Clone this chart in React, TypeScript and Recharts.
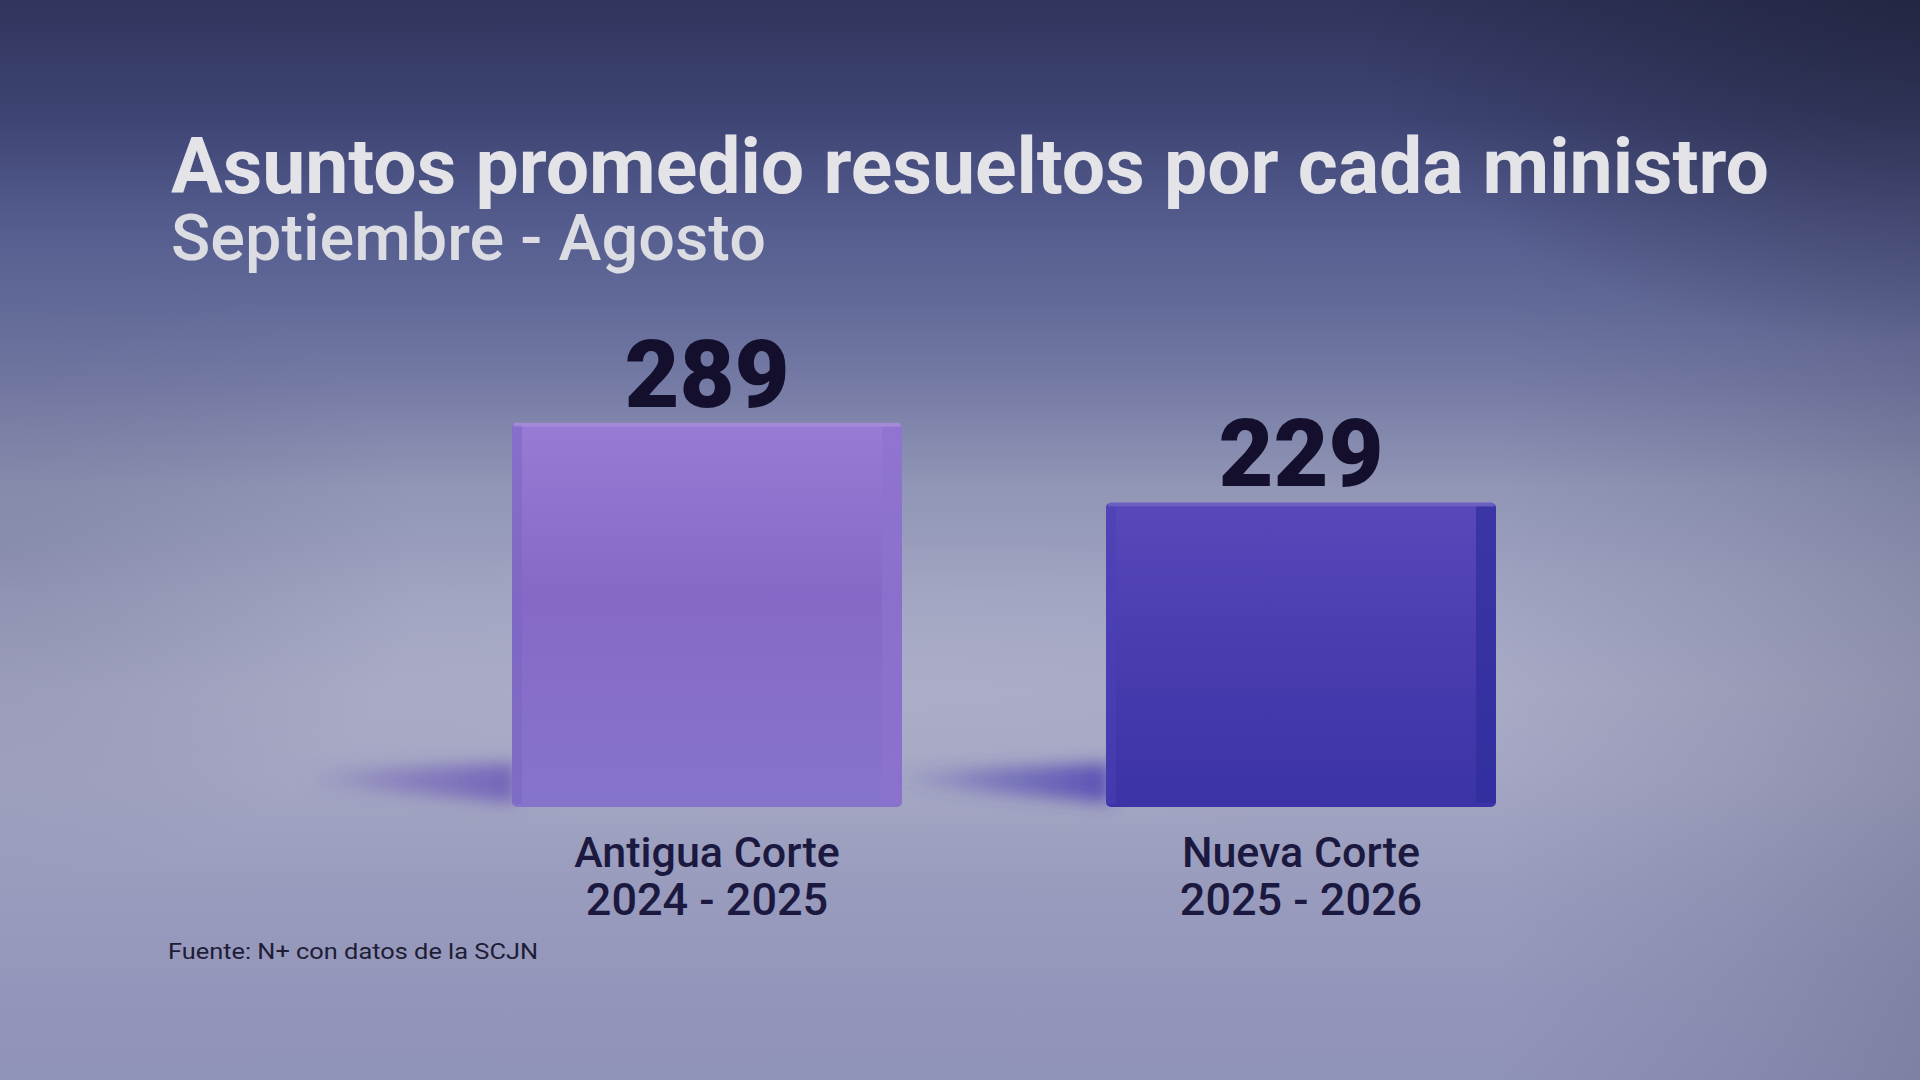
import React from 'react';
import { BarChart, Bar, XAxis, YAxis, LabelList } from 'recharts';

// ---- data ----
const categories = ['Antigua Corte', 'Nueva Corte'];
const periods = ['2024 - 2025', '2025 - 2026'];
const values = [289, 229];
const title = 'Asuntos promedio resueltos por cada ministro';
const subtitle = 'Septiembre - Agosto';
const source = 'Fuente: N+ con datos de la SCJN';

const data = categories.map((c, i) => ({ name: c, period: periods[i], value: values[i] }));

const W = 1920;
const H = 1080;
const FONT = 'Roboto, "Noto Sans", "DejaVu Sans", sans-serif';

const BAR_STYLES = [
  { top: '#977bd4', mid: '#8669c6', bottom: '#8674cc', edgeL: '#7a66c2', edgeR: '#8d72cf', shadow: '#6a58b8' },
  { top: '#5849ba', mid: '#4a3db0', bottom: '#3b33a6', edgeL: '#4a3fb4', edgeR: '#2f2d9d', shadow: '#4f43b2' },
];

function BarShape(props: any) {
  const { x, y, width, height, index } = props;
  const s = BAR_STYLES[index] || BAR_STYLES[0];
  const bottom = y + height;
  const gid = `bargrad-${index}`;
  const shid = `barshadow-${index}`;
  const fid = `barblur-${index}`;
  return (
    <g>
      <defs>
        <linearGradient id={gid} x1="0" y1="0" x2="0" y2="1">
          <stop offset="0%" stopColor={s.top} />
          <stop offset="45%" stopColor={s.mid} />
          <stop offset="100%" stopColor={s.bottom} />
        </linearGradient>
        <linearGradient id={shid} x1="1" y1="0" x2="0" y2="0">
          <stop offset="0%" stopColor={s.shadow} stopOpacity={0.85} />
          <stop offset="55%" stopColor={s.shadow} stopOpacity={0.45} />
          <stop offset="100%" stopColor={s.shadow} stopOpacity={0} />
        </linearGradient>
        <filter id={fid} x="-50%" y="-100%" width="200%" height="300%">
          <feGaussianBlur stdDeviation="8" />
        </filter>
      </defs>
      <polygon
        points={`${x + 4},${bottom - 44} ${x + 4},${bottom - 4} ${x - 210},${bottom - 22} ${x - 210},${bottom - 36}`}
        fill={`url(#${shid})`}
        filter={`url(#${fid})`}
      />
      <rect x={x} y={y} width={width} height={height} rx={5} ry={5} fill={`url(#${gid})`} />
      <rect x={x} y={y + 3} width={10} height={height - 6} fill={s.edgeL} opacity={0.55} />
      <rect x={x + width - 20} y={y + 4} width={20} height={height - 8} fill={s.edgeR} opacity={0.7} />
      <rect x={x + 2} y={y} width={width - 4} height={4} fill="#ffffff" opacity={0.12} />
    </g>
  );
}

function ValueLabel(props: any) {
  const { x, y, width, value } = props;
  return (
    <text
      x={x + width / 2}
      y={y - 16}
      textAnchor="middle"
      fontFamily={FONT}
      fontWeight={900}
      fontSize={95}
      fill="#130f2c"
    >
      {value}
    </text>
  );
}

function CategoryTick(props: any) {
  const { x, y, payload } = props;
  const i = payload.index;
  return (
    <g>
      <text
        x={x}
        y={y + 52}
        textAnchor="middle"
        fontFamily={FONT}
        fontWeight={500}
        fontSize={43}
        fill="#1b1940"
      >
        {categories[i]}
      </text>
      <text
        x={x}
        y={y + 100}
        textAnchor="middle"
        fontFamily={FONT}
        fontWeight={500}
        fontSize={45}
        fill="#1b1940"
      >
        {periods[i]}
      </text>
    </g>
  );
}

export default function App() {
  const bg = [
    'radial-gradient(ellipse 30% 32% at 100% 0%, rgba(22,24,44,0.55), rgba(22,24,44,0) 100%)',
    'linear-gradient(to left, rgba(60,62,92,0.22) 0%, rgba(60,62,92,0.10) 10%, rgba(60,62,92,0) 22%)',
    'radial-gradient(ellipse 22% 30% at 0% 52%, rgba(70,74,110,0.2), rgba(70,74,110,0) 100%)',
    'radial-gradient(ellipse 45% 14% at 45% 64%, rgba(190,192,214,0.25), rgba(190,192,214,0) 100%)',
    'linear-gradient(to bottom, #30355c 0%, #3e4574 11%, #535b8d 20%, #626a99 28%, #767ca5 36%, #9196b6 45%, #a0a3c0 55%, #a6a8c4 64%, #a3a5c2 72%, #9a9cbe 82%, #9395ba 92%, #9093b8 100%)',
  ].join(', ');

  return (
    <div
      style={{
        position: 'absolute',
        left: 0,
        top: 0,
        width: W,
        height: H,
        overflow: 'hidden',
        background: bg,
      }}
    >
      <svg width={W} height={H} style={{ position: 'absolute', left: 0, top: 0 }}>
        <text
          x={171}
          y={193}
          fontFamily={FONT}
          fontWeight={700}
          fontSize={77}
          fill="#e3e3e8"
          textLength={1598}
          lengthAdjust="spacingAndGlyphs"
        >
          {title}
        </text>
        <text
          x={171}
          y={260}
          fontFamily={FONT}
          fontWeight={500}
          fontSize={64}
          fill="#dcdce3"
          textLength={595}
          lengthAdjust="spacingAndGlyphs"
        >
          {subtitle}
        </text>
        <text
          x={168}
          y={959}
          fontFamily={FONT}
          fontWeight={400}
          fontSize={22}
          fill="#1e1d36"
          textLength={370}
          lengthAdjust="spacingAndGlyphs"
        >
          {source}
        </text>
      </svg>
      <div style={{ position: 'absolute', left: 0, top: 0 }}>
        <BarChart
          width={W}
          height={H}
          data={data}
          margin={{ top: 275, right: 322, bottom: 243, left: 410 }}
        >
          <XAxis
            dataKey="name"
            axisLine={false}
            tickLine={false}
            interval={0}
            height={30}
            tick={<CategoryTick />}
          />
          <YAxis hide width={0} domain={[0, 400]} />
          <Bar dataKey="value" barSize={390} isAnimationActive={false} shape={<BarShape />}>
            <LabelList dataKey="value" content={<ValueLabel />} />
          </Bar>
        </BarChart>
      </div>
    </div>
  );
}
